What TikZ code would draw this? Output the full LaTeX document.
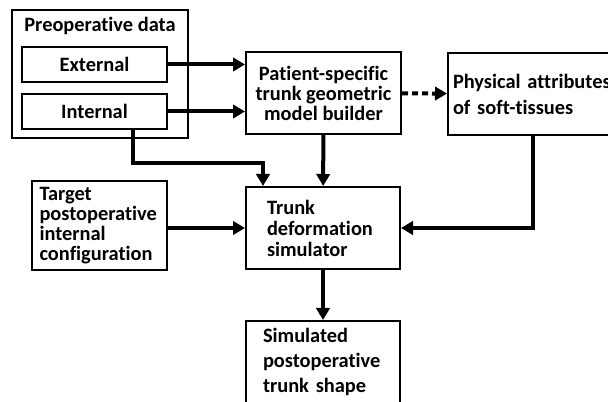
\documentclass[tikz,border=0pt]{standalone}
\usepackage{fontspec}
\setmainfont{Carlito}[Ligatures=NoCommon]
\usetikzlibrary{arrows.meta, positioning, calc}

\begin{document}
\begin{tikzpicture}[x=0.75pt, y=-0.75pt,
    blk/.style={draw, line width=1.5pt, inner sep=0pt},
    txt/.style={font=\bfseries\fontsize{15.3}{15}\selectfont},
    arr/.style={line width=3pt, -{Triangle[length=9pt, width=10pt]}}]
  \useasboundingbox (0,0) rectangle (608,402);
  \clip (0,0) rectangle (608,402);
  % Preoperative data with its two parts
  \node[blk, minimum width=132pt, minimum height=96pt] (pre) at (100,74) {};
  \node[txt] (pretit) at (100,26) {Preoperative data};
  \node[blk, txt, minimum width=108.75pt, minimum height=26.25pt] (ext) at (94.5,64.5) {External};
  \node[blk, txt, minimum width=108.75pt, minimum height=26.25pt] (int) at (94.5,111.5) {Internal};
  % Model builder and tissue attributes
  \node[blk, txt, align=center, minimum width=116.25pt, minimum height=61.5pt] (pat) at (323.5,93)
    {Patient-specific\\trunk geometric\\model builder};
  \node[blk, txt, font=\bfseries\fontsize{15.3}{19.5}\selectfont, align=left, anchor=north west,
        inner xsep=3.75pt, text width=120pt, minimum height=61.5pt] (phy) at (447,52)
    {Physical attributes\\of soft-tissues};
  % Target configuration and simulator
  \node[blk, txt, align=left, inner xsep=5.6pt, text width=90pt, minimum height=66.75pt] (tgt) at (99.5,225.5)
    {Target\\postoperative\\internal\\configuration};
  \node[blk, txt, font=\bfseries\fontsize{15.3}{15.75}\selectfont, align=left, inner xsep=15.75pt,
        text width=84pt, minimum height=61.5pt] (trk) at (323,228)
    {Trunk\\deformation\\simulator};
  % Output
  \node[blk, txt, font=\bfseries\fontsize{15.3}{18.75}\selectfont, align=left, inner xsep=13pt,
        text width=90pt, minimum height=61.5pt] (sim) at (323,362)
    {Simulated\\postoperative\\trunk shape};
  % Connectors
  \draw[arr] (ext) -- (ext -| pat.west);
  \draw[arr] (int) -- (int -| pat.west);
  \draw[arr, dash pattern=on 4.5pt off 3pt] (pat) -- (phy);
  \draw[arr] ($(int.south)+(38,0)$) |- ($(trk.north west)+(18,-23)$) -- ($(trk.north west)+(18,0)$);
  \draw[arr] (pat) -- (trk);
  \draw[arr] (phy.south) |- (trk.east);
  \draw[arr] (tgt.east |- trk.west) -- (trk.west);
  \draw[arr] (trk) -- (sim);
\end{tikzpicture}
\end{document}
